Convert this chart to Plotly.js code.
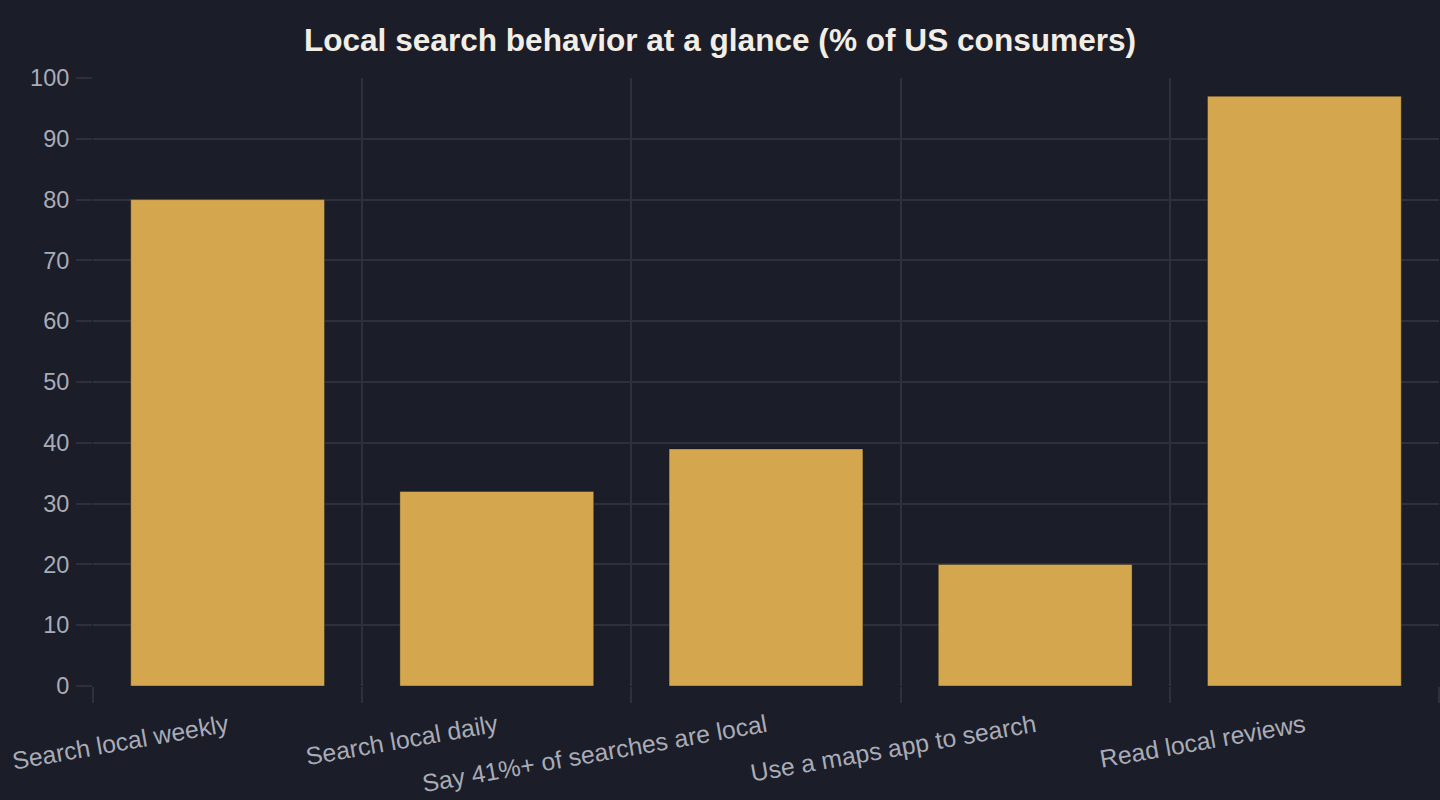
<!DOCTYPE html>
<html>
<head>
<meta charset="utf-8">
<script src="https://cdn.plot.ly/plotly-3.0.1.min.js"></script>
<style>html,body{margin:0;padding:0;background:#1b1d28;}#chart{width:1440px;height:800px;}</style>
</head>
<body>
<div id="chart"></div>
<script>
const categories = ["Search local weekly", "Search local daily", "Say 41%+ of searches are local", "Use a maps app to search", "Read local reviews"];
const values = [80, 32, 39, 20, 97];
const yTicks = [0, 10, 20, 30, 40, 50, 60, 70, 80, 90, 100];
const chartTitle = "Local search behavior at a glance (% of US consumers)";

const trace = {
  type: "bar",
  x: categories,
  y: values,
  marker: { color: "#d4a64d", line: { color: "rgba(20,20,20,0.35)", width: 1 } },
  hoverinfo: "x+y"
};

const layout = {
  width: 1440,
  height: 800,
  paper_bgcolor: "#1b1d28",
  plot_bgcolor: "#1b1d28",
  font: { family: "Liberation Sans, Arial, sans-serif", color: "#a9acb7", size: 24 },
  title: {
    text: "<b>" + chartTitle + "</b>",
    font: { size: 31.6, color: "#f2eee6", family: "Liberation Sans, Arial, sans-serif" },
    x: 0.5, xanchor: "center",
    y: 0.95, yanchor: "middle"
  },
  margin: { l: 93, r: 1, t: 78, b: 114 },
  bargap: 0.28,
  showlegend: false,
  xaxis: {
    type: "category",
    tickson: "boundaries",
    ticks: "outside",
    ticklen: 16,
    tickcolor: "#2e313d",
    tickwidth: 2,
    tickangle: -10,
    ticklabelstandoff: 20,
    showgrid: true,
    gridcolor: "#2e313d",
    gridwidth: 2,
    showline: false,
    zeroline: false,
    tickfont: { size: 24.8, color: "#a9acb7" },
    automargin: false
  },
  yaxis: {
    range: [0, 100],
    tickvals: yTicks,
    ticktext: yTicks.map(String),
    ticks: "outside",
    ticklen: 16,
    tickcolor: "#2e313d",
    tickwidth: 2,
    ticklabelstandoff: 2,
    showgrid: true,
    gridcolor: "#2e313d",
    gridwidth: 2,
    zeroline: false,
    showline: false,
    tickfont: { size: 23.5, color: "#a9acb7" },
    automargin: false
  }
};

Plotly.newPlot("chart", [trace], layout, { displayModeBar: false, staticPlot: true });
</script>
</body>
</html>
